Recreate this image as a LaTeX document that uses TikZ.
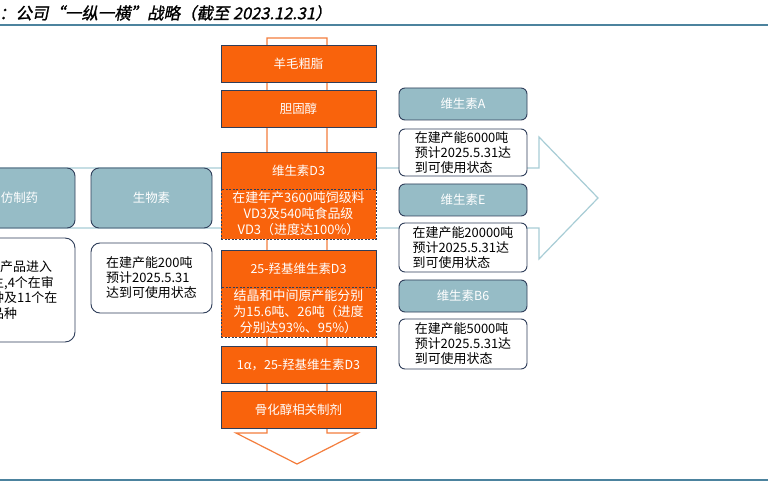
\documentclass[tikz,border=0pt]{standalone}
\usepackage{fontspec}
\setmainfont{Noto Sans CJK SC}
\newfontfamily\titlefont[FakeSlant=0.2,FakeBold=1.2]{Noto Sans CJK SC}
\definecolor{stageorange}{RGB}{249,99,12}
\definecolor{boxline}{RGB}{47,62,90}
\definecolor{prodteal}{RGB}{150,188,198}
\definecolor{varrow}{RGB}{244,125,60}
\definecolor{harrow}{RGB}{168,205,214}
\definecolor{rulecol}{RGB}{76,131,158}
\begin{document}
\begin{tikzpicture}[x=1bp,y=-1bp,
stagebox/.style={draw=boxline, line width=0.9bp, fill=stageorange, text=white, minimum width=155bp, minimum height=37bp, inner sep=0pt, font=\fontsize{12.5}{15}\selectfont},
progress/.style={stagebox, dash pattern=on 2bp off 1.5bp, minimum height=50bp, align=center, font=\fontsize{13}{16}\selectfont},
product/.style={draw=boxline, line width=0.9bp, fill=prodteal, text=white, rounded corners=6bp, minimum width=128bp, minimum height=32bp, inner sep=0pt, font=\fontsize{12.5}{15}\selectfont},
capnote/.style={draw=boxline, line width=0.9bp, fill=white, rounded corners=6bp, minimum width=128bp, inner sep=0pt, align=left, font=\fontsize{13}{15}\selectfont}]
\useasboundingbox (0,0) rectangle (768,489);
\clip (0,0) rectangle (768,489);
\fill[white] (0,0) rectangle (768,489);
\node[anchor=west, inner sep=0pt, font=\titlefont\fontsize{16.5}{18}\selectfont] (title) at (-1,13) {：公司“一纵一横”战略（截至 2023.12.31）};
\draw[rulecol, line width=2bp] (0,25) -- (768,25);
\draw[rulecol, line width=2.5bp] (0,480) -- (768,480);
\draw[fill=white, draw=harrow, line width=1.2bp] (-5,168) -- (539,168) -- (539,137) -- (598,198) -- (539,259) -- (539,228) -- (-5,228) -- cycle;
\draw[fill=white, draw=varrow, line width=1.2bp] (267,38) -- (327,38) -- (327,433) -- (358,433) -- (297,464) -- (236,433) -- (267,433) -- cycle;
\node[stagebox] (ymcz) at (298.5,64) {羊毛粗脂};
\node[stagebox] (dgc) at (298.5,109) {胆固醇};
\node[stagebox] (vd3) at (298.5,170.5) {维生素D3};
\node[progress] (vd3p) at (298.5,214) {在建年产3600吨饲级料\\VD3及540吨食品级\\VD3（进度达100\%）};
\node[stagebox] (hvd3) at (298.5,269) {25-羟基维生素D3};
\node[progress] (hvd3p) at (298.5,312) {结晶和中间原产能分别\\为15.6吨、26吨（进度\\分别达93\%、95\%）};
\node[stagebox] (dhvd3) at (298.5,364.5) {1α，25-羟基维生素D3};
\node[stagebox] (ghc) at (298.5,409.5) {骨化醇相关制剂};
\node[product, minimum width=111bp, minimum height=60bp, rounded corners=8bp] (fzy) at (19.5,198) {仿制药};
\node[product, minimum width=121bp, minimum height=60bp, rounded corners=8bp] (sws) at (151.5,198) {生物素};
\node[capnote, minimum width=135bp, minimum height=104bp, rounded corners=10bp] (fzyn) at (7.5,290) {};
\node[anchor=west, align=left, inner sep=0pt, font=\fontsize{13}{15.5}\selectfont] (fzyt) at (-9,290) {\hspace*{9bp}产品进入\\主,4个在审\\种及11个在\\品种};
\node[capnote, minimum width=121bp, minimum height=70bp, rounded corners=9bp] (swsn) at (151.5,278) {在建产能200吨\\预计2025.5.31\\达到可使用状态};
\node[product] (va) at (463,104) {维生素A};
\node[capnote, minimum height=47bp] (van) at (463,152.5) {在建产能6000吨\\预计2025.5.31达\\到可使用状态};
\node[product] (ve) at (463,200) {维生素E};
\node[capnote, minimum height=49bp] (ven) at (463,247.5) {在建产能20000吨\\预计2025.5.31达\\到可使用状态};
\node[product] (vb6) at (463,296) {维生素B6};
\node[capnote, minimum height=50bp] (vbn) at (463,344) {在建产能5000吨\\预计2025.5.31达\\到可使用状态};
\end{tikzpicture}
\end{document}
